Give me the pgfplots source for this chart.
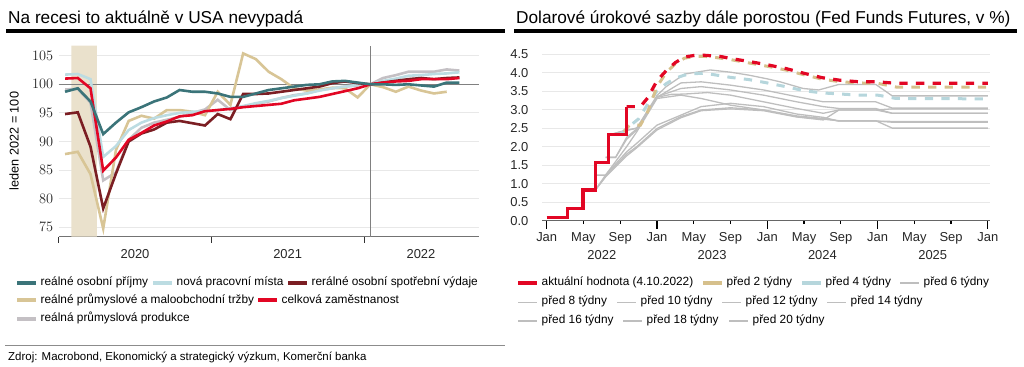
\documentclass[border=0pt]{standalone}
\usepackage{fontspec}
\setmainfont{Liberation Sans}
\usepackage{pgfplots}
\pgfplotsset{compat=1.18}
\definecolor{cteal}{RGB}{59,116,121}
\definecolor{clblue}{RGB}{188,220,226}
\definecolor{cbrown}{RGB}{123,30,35}
\definecolor{ctan}{RGB}{216,197,150}
\definecolor{cred}{RGB}{226,6,36}
\definecolor{cgray}{RGB}{196,192,196}
\definecolor{cshade}{RGB}{234,225,204}
\definecolor{cgrid}{RGB}{232,232,232}
\definecolor{cline}{RGB}{190,190,190}
\definecolor{cdblue}{RGB}{182,214,220}
\definecolor{cdtan}{RGB}{214,192,140}
\newcommand{\legfont}{\fontsize{11.9}{14}\selectfont}
\newcommand{\leg}[4]{\draw[#3] (#1,#2) -- ++(19,0);
  \node[anchor=mid west, inner sep=0pt, font=\legfont] at (#1+23.5,#2) {#4};}
\begin{document}
\begin{tikzpicture}[x=1bp,y=1bp]
\path[use as bounding box] (0,0) rectangle (1024,366);
% titles
\node[anchor=base west, inner sep=0pt, font=\fontsize{17.3}{20}\selectfont] at (8,342.7) {Na recesi to aktuálně v USA nevypadá};
\node[anchor=base west, inner sep=0pt, font=\fontsize{17.3}{20}\selectfont] at (516,342.7) {Dolarové úrokové sazby dále porostou (Fed Funds Futures, v \%)};
\fill (6,332.7) rectangle (505,336.7);
\fill (514,332.7) rectangle (1017,336.7);

% ---------------- left chart ----------------
\begin{axis}[
  at={(58.7bp,129.3bp)}, anchor=south west, scale only axis,
  width=420.3bp, height=191bp,
  xmin=0, xmax=33.04, ymin=73.36, ymax=106.75,
  axis x line*=bottom, axis y line*=left,
  y axis line style={draw=none},
  x axis line style={draw=black!55, line width=1bp},
  ytick={75,80,85,90,95,100,105},
  ymajorgrids, grid style={draw=cgrid, line width=0.9bp},
  major tick length=0pt,
  xtick={6,18,28.48}, xticklabels={2020,2021,2022},
  extra x ticks={0,12,24}, extra x tick labels={},
  extra x tick style={major tick length=6bp, tick align=outside, xtick style={draw=black!80, line width=1bp}},
  tick label style={font=\fontsize{13}{15}\selectfont, text=black!85},
  yticklabel style={anchor=east, inner sep=0pt, xshift=-5.4bp, font=\fontsize{14.5}{16}\selectfont},
  xticklabel style={anchor=base, inner sep=0pt, yshift=-21.9bp},
]
\addplot[fill=cshade, draw=none] coordinates {(1,73.36) (3,73.36) (3,106.75) (1,106.75)} \closedcycle;
\addplot[black!50, line width=1.4bp] coordinates {(0,100) (33.04,100)};
\addplot[black!50, line width=1.2bp] coordinates {(24.5,73.36) (24.5,106.75)};
% real industrial production
\addplot[cgray, line width=2.6bp] coordinates {(0.5,99.1) (1.5,99.2) (2.5,96.8) (3.5,83.2) (4.5,84.6) (5.5,90.3) (6.5,92.4) (7.5,93.3) (8.5,93.8) (9.5,94.3) (10.5,95.0) (11.5,95.6) (12.5,97.3) (13.5,95.5) (14.5,96.1) (15.5,96.6) (16.5,97.0) (17.5,97.6) (18.5,98.1) (19.5,98.4) (20.5,99.0) (21.5,99.3) (22.5,99.6) (23.5,99.8) (24.5,100.0) (25.5,101.1) (26.5,101.6) (27.5,102.2) (28.5,102.2) (29.5,102.2) (30.5,102.6) (31.5,102.4)};
% real manufacturing and trade sales
\addplot[ctan, line width=2.6bp] coordinates {(0.5,87.8) (1.5,88.2) (2.5,84.3) (3.5,74.8) (4.5,88.5) (5.5,93.6) (6.5,94.5) (7.5,94.0) (8.5,95.5) (9.5,95.5) (10.5,95.2) (11.5,94.6) (12.5,98.7) (13.5,96.4) (14.5,105.4) (15.5,104.4) (16.5,102.2) (17.5,100.9) (18.5,99.3) (19.5,98.9) (20.5,99.1) (21.5,99.4) (22.5,99.3) (23.5,97.7) (24.5,100.0) (25.5,99.5) (26.5,98.7) (27.5,99.6) (28.5,98.9) (29.5,98.4) (30.5,98.7)};
% payrolls
\addplot[clblue, line width=2.6bp] coordinates {(0.5,101.7) (1.5,101.8) (2.5,100.9) (3.5,87.3) (4.5,89.2) (5.5,92.0) (6.5,93.3) (7.5,94.1) (8.5,94.6) (9.5,95.0) (10.5,95.2) (11.5,95.3) (12.5,95.5) (13.5,95.8) (14.5,96.2) (15.5,96.7) (16.5,97.1) (17.5,97.6) (18.5,98.0) (19.5,98.4) (20.5,98.9) (21.5,99.3) (22.5,99.6) (23.5,99.9) (24.5,100.0) (25.5,100.6) (26.5,101.0) (27.5,101.5) (28.5,101.6) (29.5,101.8) (30.5,101.9) (31.5,102.1)};
% real PCE
\addplot[cbrown, line width=2.6bp] coordinates {(0.5,94.8) (1.5,95.1) (2.5,89.1) (3.5,78.3) (4.5,84.4) (5.5,90.0) (6.5,91.4) (7.5,92.1) (8.5,93.3) (9.5,93.6) (10.5,93.2) (11.5,92.8) (12.5,94.8) (13.5,93.9) (14.5,98.3) (15.5,98.3) (16.5,98.4) (17.5,98.7) (18.5,99.0) (19.5,99.3) (20.5,99.6) (21.5,100.2) (22.5,100.5) (23.5,100.2) (24.5,100.0) (25.5,100.3) (26.5,100.6) (27.5,100.9) (28.5,101.1) (29.5,100.9) (30.5,101.1) (31.5,101.2)};
% household employment
\addplot[cred, line width=2.6bp] coordinates {(0.5,101.0) (1.5,101.1) (2.5,99.3) (3.5,84.9) (4.5,87.2) (5.5,90.3) (6.5,91.5) (7.5,92.8) (8.5,93.5) (9.5,94.4) (10.5,94.6) (11.5,95.3) (12.5,95.5) (13.5,95.7) (14.5,96.0) (15.5,96.2) (16.5,96.4) (17.5,96.6) (18.5,97.2) (19.5,97.5) (20.5,97.8) (21.5,98.3) (22.5,98.8) (23.5,99.3) (24.5,100.0) (25.5,100.3) (26.5,100.5) (27.5,100.6) (28.5,100.9) (29.5,100.9) (30.5,100.9) (31.5,101.1)};
% real personal income
\addplot[cteal, line width=2.6bp] coordinates {(0.5,98.7) (1.5,99.3) (2.5,97.0) (3.5,91.3) (4.5,93.3) (5.5,95.1) (6.5,96.0) (7.5,97.0) (8.5,97.7) (9.5,99.0) (10.5,98.7) (11.5,98.7) (12.5,98.4) (13.5,97.8) (14.5,97.8) (15.5,98.4) (16.5,99.0) (17.5,99.3) (18.5,99.6) (19.5,99.9) (20.5,100.0) (21.5,100.5) (22.5,100.6) (23.5,100.3) (24.5,100.0) (25.5,100.0) (26.5,99.9) (27.5,100.0) (28.5,99.8) (29.5,99.6) (30.5,100.3) (31.5,100.3)};
\end{axis}
\node[rotate=90, inner sep=0pt, font=\fontsize{12.7}{15}\selectfont] at (14,225) {leden 2022 = 100};

% left legend
\leg{17}{83.3}{cteal, line width=4bp}{reálné osobní příjmy}
\leg{153}{83.3}{clblue, line width=4bp}{nová pracovní místa}
\leg{288}{83.3}{cbrown, line width=4bp}{rerálné osobní spotřební výdaje}
\leg{17}{65.6}{ctan, line width=4bp}{reálné průmyslové a maloobchodní tržby}
\leg{258}{65.6}{cred, line width=4bp}{celková zaměstnanost}
\leg{17}{47}{cgray, line width=4bp}{reálná průmyslová produkce}
\draw[black!45, line width=1bp] (5,21) -- (505,21);
\node[anchor=base west, inner sep=0pt, font=\fontsize{11.5}{14}\selectfont] at (8,6) {Zdroj: Macrobond, Ekonomický a strategický výzkum, Komerční banka};

% ---------------- right chart ----------------
\begin{axis}[
  at={(542.1bp,145.3bp)}, anchor=south west, scale only axis,
  width=447.55bp, height=174.8bp,
  xmin=-0.5, xmax=48.2, ymin=0, ymax=4.72,
  axis x line*=bottom, axis y line*=left,
  y axis line style={draw=none},
  x axis line style={draw=black!60, line width=1.3bp},
  ytick={0,0.5,1,1.5,2,2.5,3,3.5,4,4.5},
  yticklabels={0.0,0.5,1.0,1.5,2.0,2.5,3.0,3.5,4.0,4.5},
  ymajorgrids, grid style={draw=cgrid, line width=0.9bp},
  ytick style={draw=none},
  xtick={0,4,8,12,16,20,24,28,32,36,40,44,48},
  xticklabels={Jan,May,Sep,Jan,May,Sep,Jan,May,Sep,Jan,May,Sep,Jan},
  major tick length=3.5bp, tick align=outside,
  xtick style={draw=black, line width=1.2bp},
  extra x ticks={0,12,24,36,48}, extra x tick labels={},
  extra x tick style={major tick length=8bp},
  tick label style={font=\fontsize{13}{15}\selectfont, text=black!85},
  yticklabel style={anchor=east, inner sep=0pt, xshift=-10bp},
  xticklabel style={anchor=base, inner sep=0pt, yshift=-17.6bp},
]
\addplot[cline, line width=1.3bp] coordinates {(7.0,2.33) (8.0,2.40) (9.8,2.50) (12,3.38) (13,3.62) (15,3.96) (17.8,4.07) (20,4.01) (22,3.93) (24,3.83) (25.4,3.75) (27.9,3.57) (29.6,3.53) (31.8,3.68) (35.8,3.68) (37.6,3.37) (48,3.37)};
\addplot[cline, line width=1.3bp] coordinates {(7.0,2.33) (8.0,2.40) (9.8,2.50) (12,3.33) (14.6,3.72) (16.8,3.75) (20,3.66) (23.6,3.53) (27.2,3.35) (30.1,3.21) (31.8,3.21) (35.8,3.21) (37.6,3.04) (48,3.04)};
\addplot[cline, line width=1.3bp] coordinates {(6.4,1.71) (7.5,1.71) (8.7,2.25) (9.8,2.48) (12,3.35) (14.6,3.57) (16.8,3.62) (20,3.53) (23.6,3.39) (27.2,3.21) (30.1,3.08) (31.8,3.03) (35.8,3.03) (37.6,2.90) (48,2.90)};
\addplot[cline, line width=1.3bp] coordinates {(6.4,1.71) (7.5,1.71) (8.7,2.20) (9.8,2.45) (12,3.33) (13.5,3.41) (15,3.42) (17.5,3.46) (20,3.39) (23.6,3.21) (27.2,3.03) (30.1,2.90) (31.8,2.99) (35.8,2.99) (37.6,2.90) (48,2.90)};
\addplot[cline, line width=1.3bp] coordinates {(5.3,1.23) (6.4,1.23) (8.7,2.00) (9.8,2.40) (12,3.30) (14.6,3.39) (16.8,3.30) (20,3.12) (23.6,2.99) (27.2,2.83) (30.1,2.76) (31.8,2.69) (35.8,2.69) (37.6,2.68) (48,2.68)};
\addplot[cline, line width=1.3bp] coordinates {(4.0,0.83) (5.3,0.83) (6.4,1.23) (8.7,1.86) (9.8,2.09) (12,2.58) (14.6,2.85) (16.8,3.08) (20,3.17) (23.6,3.08) (27.2,2.88) (30.1,2.79) (31.8,2.69) (35.8,2.69) (37.6,2.66) (48,2.66)};
\addplot[cline, line width=1.3bp] coordinates {(4.0,0.83) (5.3,0.83) (6.4,1.20) (8.7,1.80) (9.8,2.00) (12,2.49) (14.6,2.81) (16.8,2.99) (20,3.05) (23.6,2.99) (27.2,2.81) (30.1,2.74) (31.8,2.70) (35.8,2.70) (37.6,2.50) (48,2.50)};
\addplot[cline, line width=1.3bp] coordinates {(4.0,0.83) (5.3,0.83) (6.4,1.18) (8.7,1.75) (9.8,1.97) (12,2.45) (14.6,2.78) (16.8,2.97) (20,3.02) (23.6,2.97) (27.2,2.80) (30.1,2.72) (31.8,2.99) (35.8,2.99) (37.6,3.02) (48,3.02)};
% 4 weeks ago
\addplot[cdblue, line width=3bp, dash pattern=on 8.3bp off 8.3bp] coordinates {(8.0,2.33) (9,2.55) (10,2.75) (11,3.15) (12,3.50) (13,3.70) (14,3.85) (15,3.93) (16,3.97) (17,3.98) (18,3.95) (20,3.87) (22,3.81) (24,3.72) (26,3.62) (28,3.51) (30,3.45) (32,3.42) (34,3.39) (36,3.39) (37,3.35) (38,3.30) (48,3.29)};
% 2 weeks ago
\addplot[cdtan, line width=3bp, dash pattern=on 8.3bp off 8.3bp] coordinates {(8.4,2.40) (9,2.58) (10.2,2.58) (11,2.95) (12,3.62) (13,4.00) (14,4.24) (15,4.39) (16,4.43) (17,4.44) (18,4.42) (20,4.35) (22,4.26) (24,4.17) (26,4.07) (28,3.94) (30,3.82) (32,3.75) (34,3.72) (36,3.71) (37,3.66) (38,3.61) (48,3.61)};
% current
\addplot[cred, line width=3.2bp, dash pattern=on 8.3bp off 8.3bp] coordinates {(8.7,3.08) (10.2,3.08) (11,3.32) (12,3.78) (13,4.05) (14,4.27) (15,4.42) (16,4.46) (17,4.47) (18,4.45) (19,4.43) (20,4.38) (22,4.30) (24,4.21) (26,4.11) (28,3.98) (30,3.86) (32,3.79) (34,3.75) (36,3.75) (37,3.73) (38,3.71) (48,3.71)};
\addplot[cred, line width=3.2bp, line join=miter] coordinates {(0,0.08) (2.3,0.08) (2.3,0.33) (3.95,0.33) (3.95,0.83) (5.35,0.83) (5.35,1.58) (6.75,1.58) (6.75,2.33) (8.7,2.33) (8.7,3.08)};
\end{axis}
\foreach \xx/\yy in {601.8/2022, 712.1/2023, 822.4/2024, 932.7/2025}
  \node[anchor=base, inner sep=0pt, font=\fontsize{13}{15}\selectfont, text=black!85] at (\xx,106.4) {\yy};

% right legend
\leg{518}{82.7}{cred, line width=4bp}{aktuální hodnota (4.10.2022)}
\leg{703}{82.7}{cdtan, line width=4bp}{před 2 týdny}
\leg{802}{82.7}{cdblue, line width=4bp}{před 4 týdny}
\leg{900}{82.7}{cline, line width=2bp}{před 6 týdny}
\leg{518}{63.7}{cline, line width=1.5bp}{před 8 týdny}
\leg{617}{63.7}{cline, line width=1.5bp}{před 10 týdny}
\leg{722}{63.7}{cline, line width=1.5bp}{před 12 týdny}
\leg{827}{63.7}{cline, line width=1.5bp}{před 14 týdny}
\leg{518}{45}{cline, line width=1.5bp}{před 16 týdny}
\leg{623}{45}{cline, line width=1.5bp}{před 18 týdny}
\leg{729}{45}{cline, line width=1.5bp}{před 20 týdny}
\end{tikzpicture}
\end{document}
